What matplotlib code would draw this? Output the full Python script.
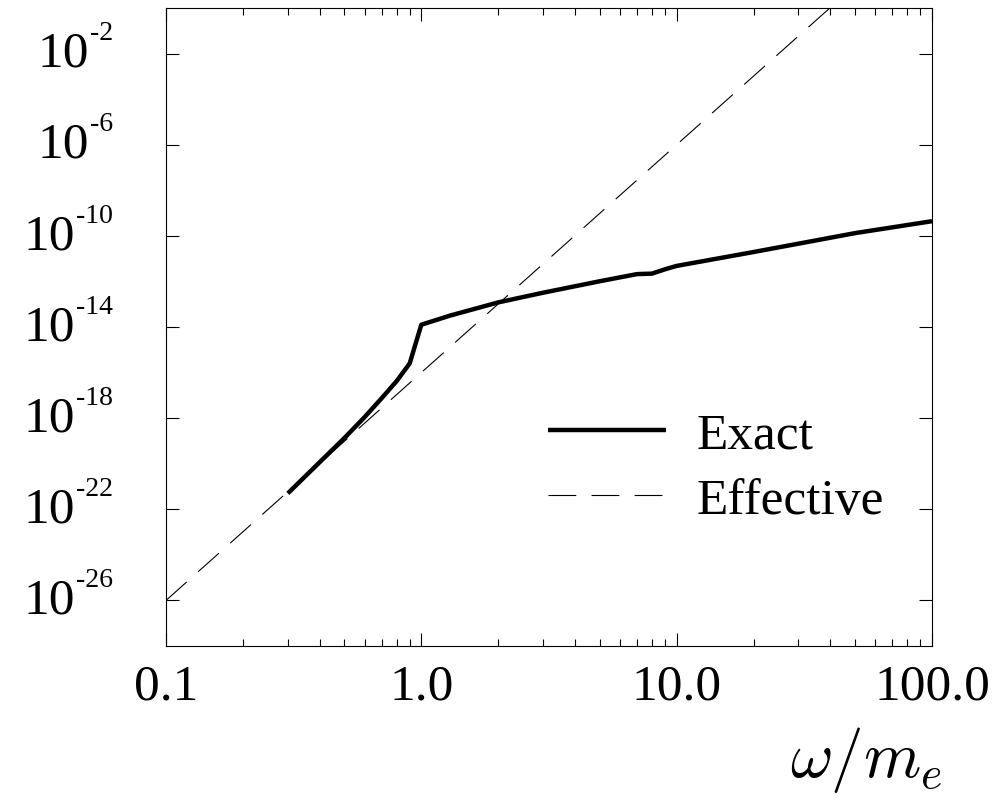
import numpy as np
import matplotlib
matplotlib.use('Agg')
import matplotlib.pyplot as plt
from matplotlib.ticker import FixedLocator, NullLocator, FixedFormatter, LogLocator
from matplotlib.transforms import blended_transform_factory

# exact result
exact_x = [0.3, 0.4, 0.5, 0.6, 0.7, 0.8, 0.9, 1.0, 1.3, 2.0, 3.0,
           5.0, 7.0, 8.0, 9.0, 10.0, 20.0, 50.0, 100.0]
exact_y = [5.0e-22, 1.17e-20, 1.35e-19, 1.12e-18, 7.6e-18, 4.2e-17, 2.5e-16,
           1.26e-14, 3.2e-14, 1.2e-13, 3.2e-13, 1.02e-12, 2.1e-12, 2.2e-12,
           3.4e-12, 4.8e-12, 1.95e-11, 1.32e-10, 4.4e-10]

# effective (power law) approximation
eff_x = [0.1, 1.0, 10.0, 100.0]
eff_y = [1e-26, 1e-16, 1e-6, 1e4]

xtick_vals = [0.1, 1.0, 10.0, 100.0]
xtick_labels = ['0.1', '1.0', '10.0', '100.0']
ytick_vals = [1e-2, 1e-6, 1e-10, 1e-14, 1e-18, 1e-22, 1e-26]
ytick_exps = ['-2', '-6', '-10', '-14', '-18', '-22', '-26']

plt.rcParams['font.family'] = ['Liberation Serif', 'DejaVu Serif']
plt.rcParams['mathtext.fontset'] = 'cm'
plt.rcParams['lines.scale_dashes'] = False

fig = plt.figure(figsize=(9.98, 8.04), dpi=100)
ax = fig.add_axes([166/998, 1 - 647/804, (932-166)/998, (647-9)/804])

ax.plot(exact_x, exact_y, color='black', lw=3.2, label='Exact', solid_capstyle='butt')
ax.plot(eff_x, eff_y, color='black', lw=0.8, linestyle=(0, (20, 11)), label='Effective')

ax.set_xscale('log')
ax.set_yscale('log')
ax.set_xlim(0.1, 100)
ax.set_ylim(1e-28, 1e0)

ax.xaxis.set_major_locator(FixedLocator(xtick_vals))
ax.xaxis.set_major_formatter(FixedFormatter(xtick_labels))
ax.xaxis.set_minor_locator(LogLocator(base=10, subs=np.arange(2, 10)))
ax.yaxis.set_major_locator(FixedLocator(ytick_vals))
ax.yaxis.set_minor_locator(NullLocator())

ax.tick_params(which='both', direction='in', top=True, right=True, width=0.8, colors='black')
ax.tick_params(which='major', length=9.5)
ax.tick_params(which='minor', length=5)
ax.tick_params(axis='x', which='major', labelsize=37, pad=12)
ax.tick_params(axis='y', labelleft=False)
for s in ax.spines.values():
    s.set_linewidth(0.8)

# y tick labels drawn as 10 with a small raised exponent
trans = blended_transform_factory(ax.transAxes, ax.transData)
for v, e in zip(ytick_vals, ytick_exps):
    ex = ax.annotate(e, xy=(0, v), xycoords=trans, xytext=(-38, 15),
                     textcoords='offset points', ha='right', va='center',
                     fontsize=20, annotation_clip=False)
    ax.annotate('10', xy=(0, 0.5), xycoords=ex, xytext=(-1, -15),
                textcoords='offset points', ha='right', va='center',
                fontsize=37, annotation_clip=False)

ax.set_xlabel(r'$\omega/m_e$', fontsize=47)
ax.xaxis.set_label_coords(1.013, -0.204)
ax.xaxis.label.set_ha('right')
ax.xaxis.label.set_va('baseline')

ax.legend(loc='center left', bbox_to_anchor=(0.499, 0.279), frameon=False,
          fontsize=37, handlelength=2.3, handletextpad=0.58, labelspacing=0.36,
          borderpad=0, borderaxespad=0)

fig.savefig('out.png', dpi=100)
